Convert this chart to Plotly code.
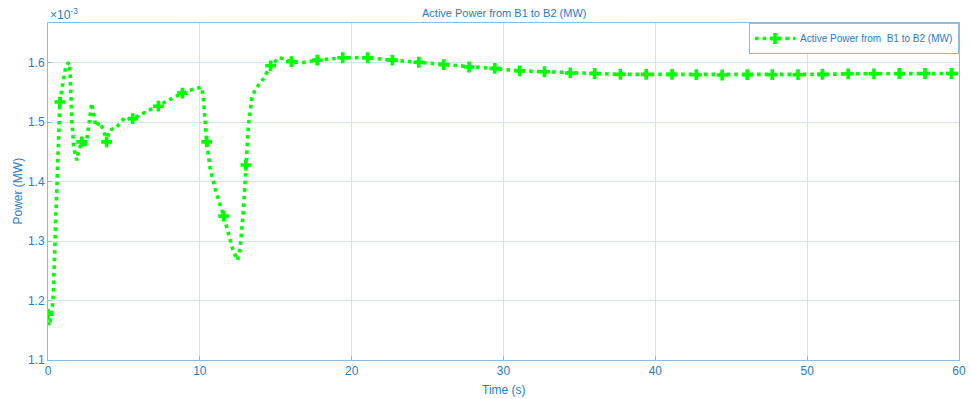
import plotly.graph_objects as go

# Active power flow B1 -> B2, values in units of 1e-3 MW
time_s = [0, 0.06, 0.14, 0.22, 0.33, 0.46, 0.59, 0.72, 0.78, 0.98, 1.18, 1.37, 1.45,
          1.57, 1.70, 1.90, 2.03, 2.22, 2.40, 2.55, 2.75, 2.88, 3.0, 3.14, 3.4, 3.66,
          3.86, 4.05, 4.45, 5.03, 5.58, 6.34, 7.27, 8.0, 8.85, 9.5, 10.1, 10.22, 10.45,
          10.7, 11.03, 11.57, 11.9, 12.2, 12.48, 12.66, 12.88, 13.03, 13.2, 13.42, 13.64,
          14.18, 14.66, 15.23, 16.03, 16.7, 17.73, 19.41, 21.05, 22.68, 24.42, 26.06,
          27.73, 29.43, 31.07, 32.7, 34.4, 36.0, 37.7, 39.4, 41.1, 42.7, 44.4, 46.05,
          47.7, 49.4, 51.0, 52.7, 54.4, 56.06, 57.76, 59.5, 60]
power = [1.177, 1.158, 1.165, 1.178, 1.200, 1.300, 1.400, 1.486, 1.534, 1.567, 1.594,
         1.601, 1.585, 1.503, 1.456, 1.436, 1.453, 1.467, 1.457, 1.470, 1.506, 1.532,
         1.515, 1.493, 1.500, 1.487, 1.467, 1.487, 1.490, 1.507, 1.506, 1.516, 1.527,
         1.537, 1.549, 1.555, 1.559, 1.545, 1.467, 1.419, 1.386, 1.342, 1.308, 1.283,
         1.268, 1.289, 1.356, 1.428, 1.495, 1.540, 1.555, 1.573, 1.595, 1.609, 1.602,
         1.600, 1.6045, 1.6085, 1.6085, 1.6045, 1.601, 1.597, 1.593, 1.5906, 1.5866,
         1.585, 1.583, 1.582, 1.5805, 1.5805, 1.5805, 1.580, 1.5795, 1.580, 1.580,
         1.580, 1.5805, 1.5815, 1.5815, 1.582, 1.582, 1.582, 1.582]
# samples that carry a marker
marked = [1, 0, 0, 0, 0, 0, 0, 0, 1, 0, 0, 0, 0, 0, 0, 0, 0, 1, 0, 0, 0, 0, 0, 0, 0, 0,
          1, 0, 0, 0, 1, 0, 1, 0, 1, 0, 0, 0, 1, 0, 0, 1, 0, 0, 0, 0, 0, 1, 0, 0, 0,
          0, 1, 0, 1, 0, 1, 1, 1, 1, 1, 1, 1, 1, 1, 1, 1, 1, 1, 1, 1, 1, 1, 1,
          1, 1, 1, 1, 1, 1, 1, 1, 0]

x_ticks = [0, 10, 20, 30, 40, 50, 60]
y_ticks = [1.1, 1.2, 1.3, 1.4, 1.5, 1.6]

GREEN = "#00ff00"
AXIS_BLUE = "#2b7bc4"
LINE_BLUE = "#8dbbe0"
GRID = "#d3e5f3"
FONT = "Liberation Sans, Arial, sans-serif"

mx = [t for t, m in zip(time_s, marked) if m]
my = [p for p, m in zip(power, marked) if m]

fig = go.Figure()
fig.add_trace(go.Scatter(
    x=time_s, y=power, mode="lines", showlegend=False, hoverinfo="skip",
    line=dict(color=GREEN, width=3.6, dash="3.6px,4px"),
))
fig.add_trace(go.Scatter(
    x=mx, y=my, mode="markers", showlegend=False,
    marker=dict(symbol="cross", size=9, color=GREEN, line=dict(width=0)),
))
# legend entry combining dotted line and marker
fig.add_trace(go.Scatter(
    x=[None], y=[None], mode="lines+markers",
    name="Active Power from  B1 to B2 (MW)",
    line=dict(color=GREEN, width=3.6, dash="3.6px,4px"),
    marker=dict(symbol="cross", size=9, color=GREEN),
))

axis_common = dict(
    showline=True, linecolor=LINE_BLUE, linewidth=1, mirror=True,
    showgrid=True, gridcolor=GRID, gridwidth=1, zeroline=False,
    ticks="inside", ticklen=4, tickcolor=LINE_BLUE,
    ticklabeloverflow="allow",
    tickfont=dict(family=FONT, size=12, color=AXIS_BLUE),
)

fig.update_layout(
    width=970, height=399,
    margin=dict(l=48, r=4, t=23, b=39),
    paper_bgcolor="white", plot_bgcolor="white",
    font=dict(family=FONT, color=AXIS_BLUE),
    xaxis=dict(range=[0, 60], tickvals=x_ticks, ticktext=[str(v) for v in x_ticks],
               **axis_common),
    yaxis=dict(range=[1.1, 1.667], tickvals=y_ticks,
               ticktext=[f"{v:.1f}" for v in y_ticks], **axis_common),
    legend=dict(x=1, y=1, xanchor="right", yanchor="top",
                bgcolor="white", bordercolor=LINE_BLUE, borderwidth=1,
                font=dict(family=FONT, size=10, color=AXIS_BLUE),
                itemwidth=40),
    annotations=[
        dict(text="Active Power from B1 to B2 (MW)", xref="paper", yref="paper",
             x=0.5, y=1, xanchor="center", yanchor="middle", yshift=10,
             showarrow=False, font=dict(family=FONT, size=11, color=AXIS_BLUE)),
        dict(text="×10<sup>-3</sup>", xref="paper", yref="paper",
             x=0, y=1, xanchor="left", yanchor="bottom", yshift=-1, showarrow=False,
             font=dict(family=FONT, size=12, color=AXIS_BLUE)),
        dict(text="Power (MW)", xref="paper", yref="paper", textangle=-90,
             x=-0.034, y=0.5, xanchor="center", yanchor="middle", showarrow=False,
             font=dict(family=FONT, size=12, color=AXIS_BLUE)),
        dict(text="Time (s)", xref="paper", yref="paper",
             x=0.5, y=0, xanchor="center", yanchor="middle", yshift=-30,
             showarrow=False, font=dict(family=FONT, size=12, color=AXIS_BLUE)),
    ],
)

fig.write_html("out.html")
